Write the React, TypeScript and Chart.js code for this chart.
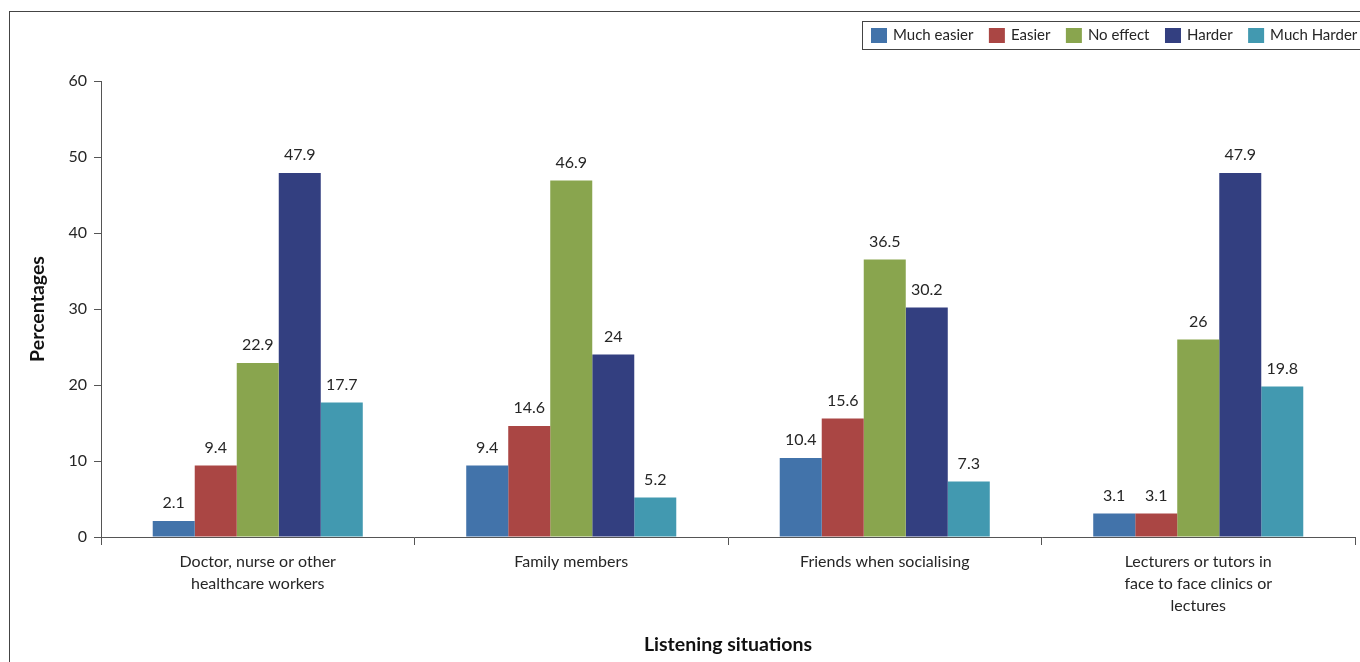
import React, { useEffect, useRef } from "react";
import { Chart, registerables } from "chart.js";

Chart.register(...registerables);

const categories: (string | string[])[] = [
  ["Doctor, nurse or other", "healthcare workers"],
  "Family members",
  "Friends when socialising",
  ["Lecturers or tutors in", "face to face clinics or", "lectures"],
];

const seriesNames = ["Much easier", "Easier", "No effect", "Harder", "Much Harder"];
const seriesColors = ["#4273AA", "#AA4644", "#89A54E", "#333F80", "#4299B0"];

const muchEasier = [2.1, 9.4, 10.4, 3.1];
const easier = [9.4, 14.6, 15.6, 3.1];
const noEffect = [22.9, 46.9, 36.5, 26];
const harder = [47.9, 24, 30.2, 47.9];
const muchHarder = [17.7, 5.2, 7.3, 19.8];

const yTicks = [0, 10, 20, 30, 40, 50, 60];

const FONT = "Lato, 'Open Sans', sans-serif";
const TEXT = "#262626";
const LINE = "#555555";

const labelPlugin = {
  id: "valueLabels",
  afterDatasetsDraw(chart: any) {
    const ctx = chart.ctx;
    ctx.save();
    ctx.font = `16px ${FONT}`;
    ctx.fillStyle = TEXT;
    ctx.textAlign = "center";
    ctx.textBaseline = "bottom";
    chart.data.datasets.forEach((ds: any, i: number) => {
      const meta = chart.getDatasetMeta(i);
      meta.data.forEach((el: any, j: number) => {
        ctx.fillText(String(ds.data[j]), el.x, el.y - 10);
      });
    });
    ctx.restore();
  },
};

const framePlugin = {
  id: "frameAndLegend",
  afterDraw(chart: any) {
    const ctx = chart.ctx;
    ctx.save();
    ctx.strokeStyle = "#444";
    ctx.lineWidth = 1;
    ctx.strokeRect(9.5, 11.5, 3000, 3000);
    ctx.strokeRect(862.5, 21.5, 600, 28);
    ctx.font = `15px ${FONT}`;
    ctx.textBaseline = "middle";
    ctx.textAlign = "left";
    let x = 871;
    chart.data.datasets.forEach((ds: any) => {
      ctx.fillStyle = ds.backgroundColor;
      ctx.fillRect(x, 28, 16, 15);
      ctx.fillStyle = TEXT;
      ctx.fillText(ds.label, x + 22, 35.5);
      x += 22 + ctx.measureText(ds.label).width + 15.5;
    });
    ctx.restore();
  },
};

export default function App() {
  const ref = useRef<HTMLCanvasElement>(null);
  useEffect(() => {
    if (!ref.current) return;
    const seriesData = [muchEasier, easier, noEffect, harder, muchHarder];
    const chart = new Chart(ref.current, {
      type: "bar",
      data: {
        labels: categories,
        datasets: seriesNames.map((name, i) => ({
          label: name,
          data: seriesData[i],
          backgroundColor: seriesColors[i],
          borderWidth: 0,
          categoryPercentage: 0.67,
          barPercentage: 1.0,
        })),
      },
      options: {
        responsive: false,
        animation: false,
        layout: { padding: { top: 81, left: 20, right: 5, bottom: 0 } },
        plugins: {
          legend: { display: false },
          tooltip: { enabled: false },
        },
        scales: {
          x: {
            offset: true,
            grid: { offset: true, drawOnChartArea: false, tickLength: 8, color: LINE },
            border: { color: LINE },
            ticks: { font: { family: FONT, size: 16, lineHeight: 1.375 }, color: TEXT, padding: 6, maxRotation: 0, autoSkip: false },
            title: {
              display: true,
              text: "Listening situations",
              font: { family: FONT, size: 19.5, weight: "bold" },
              color: "#111",
              padding: { top: 4, bottom: 6 },
            },
            afterFit: (s: any) => { s.height = 125; },
          },
          y: {
            min: 0,
            max: 60,
            afterBuildTicks: (s: any) => { s.ticks = yTicks.map((v) => ({ value: v })); },
            grid: { drawOnChartArea: false, tickLength: 7, color: LINE },
            border: { color: LINE },
            ticks: { font: { family: FONT, size: 16 }, color: TEXT, padding: 7 },
            title: {
              display: true,
              text: "Percentages",
              font: { family: FONT, size: 19.5, weight: "bold" },
              color: "#111",
              padding: { top: 6, bottom: 4 },
            },
            afterFit: (s: any) => { s.width = 81; },
          },
        },
      },
      plugins: [labelPlugin, framePlugin],
    });
    return () => chart.destroy();
  }, []);
  return (
    <div style={{ position: "absolute", left: 0, top: 0, width: 1360, height: 662, overflow: "hidden" }}>
      <canvas ref={ref} width={1360} height={662} style={{ display: "block", width: 1360, height: 662 }} />
    </div>
  );
}
